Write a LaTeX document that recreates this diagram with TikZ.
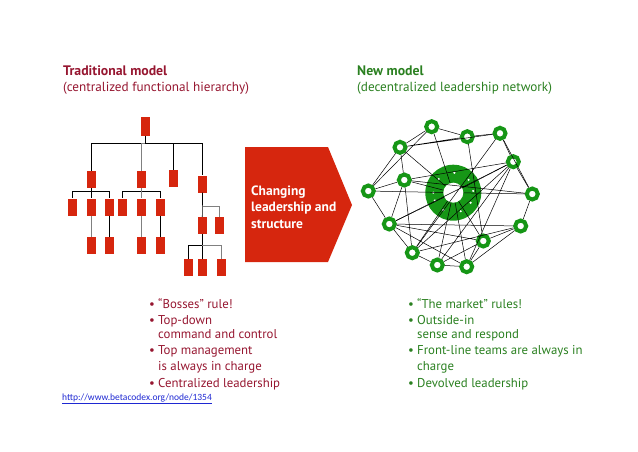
\documentclass[tikz,border=0pt]{standalone}
\usepackage{fontspec}
\setmainfont{PT Sans}
\newfontfamily\urlfont{Carlito}
\usetikzlibrary{positioning}
\definecolor{boxred}{RGB}{214,38,14}
\definecolor{oldred}{RGB}{150,22,48}
\definecolor{newgreen}{RGB}{42,128,32}
\definecolor{netgreen}{RGB}{22,150,22}
\definecolor{linkblue}{RGB}{30,40,210}
\tikzset{
  post/.style={fill=boxred,minimum width=9pt,minimum height=17pt,inner sep=0pt},
  wire/.style={line width=0.7pt},
  greywire/.style={line width=0.7pt,gray},
  team/.style={circle,draw=netgreen,line width=4pt,fill=white,minimum size=11pt,inner sep=0pt},
  tie/.style={line width=0.5pt},
  heading/.style={anchor=base west,inner sep=0pt,font=\fontsize{13.8}{16}\selectfont\bfseries},
  subheading/.style={anchor=base west,inner sep=0pt,font=\fontsize{13.2}{16}\selectfont},
  point/.style={anchor=base west,inner sep=0pt,font=\fontsize{12.8}{15}\selectfont},
}
\begin{document}
\begin{tikzpicture}[x=1pt,y=-1pt]
\useasboundingbox (0,0) rectangle (638,451);

% Headings
\node[heading,oldred] (oldtitle) at (63,75) {Traditional model};
\node[subheading,oldred] (oldsub) at (63,91) {(centralized functional hierarchy)};
\node[heading,newgreen] (newtitle) at (357,75) {New model};
\node[subheading,newgreen] (newsub) at (357,91) {(decentralized leadership network)};

% Hierarchy (left)
\node[post,minimum height=19pt] (boss) at (145.5,126.5) {};
\node[post] (m1) at (91.5,179.5) {};
\node[post] (m2) at (141.7,179.5) {};
\node[post] (m3) at (173.8,178.5) {};
\node[post] (m4) at (202.5,184) {};
\node[post] (a1) at (72.3,207) {};
\node[post] (a2) at (91,207) {};
\node[post] (a3) at (109.3,207) {};
\node[post] (b1) at (122.7,207) {};
\node[post] (b2) at (141.7,207) {};
\node[post] (b3) at (160,207) {};
\node[post] (a2x) at (91,245.5) {};
\node[post] (a3x) at (109.3,245.5) {};
\node[post] (b2x) at (141.7,245.5) {};
\node[post] (b3x) at (160,245.5) {};
\node[post] (c1) at (202.3,225.5) {};
\node[post] (c2) at (219.7,225.5) {};
\node[post] (d1) at (188.3,267.5) {};
\node[post] (d2) at (202.3,267.5) {};
\node[post] (d3) at (221.7,267.5) {};

\draw[wire] (boss.south) -- ++(0,7) -| (m1.north);
\draw[greywire] (boss.south) ++(0,7) -| (m2.north);
\draw[wire] (boss.south) -- ++(0,7) -| (m3.north);
\draw[wire] (boss.south) -- ++(0,7) -| (m4.north);
\draw[wire] (m1.south) -- ++(0,3) -| (a1.north);
\draw[wire] (m1.south) -- ++(0,3) -| (a2.north);
\draw[wire] (m1.south) -- ++(0,3) -| (a3.north);
\draw[wire] (m2.south) -- ++(0,3) -| (b1.north);
\draw[wire] (m2.south) -- ++(0,3) -| (b3.north);
\draw[greywire] (m2) -- (b2);
\draw[greywire] (a2) -- (a2x);
\draw[wire] (a3) -- (a3x);
\draw[greywire] (b2) -- (b2x);
\draw[wire] (b3) -- (b3x);
\draw[wire] (m4) -- (c1);
\draw[greywire] (m4.south) ++(0,14) -| (c2.north);
\draw[wire] (c1.south) -- ++(0,10.7) -| (d1.north);
\draw[wire] (c1) -- (d2);
\draw[greywire] (c1.south) ++(0,10.7) -| (d3.north);

% Change arrow
\fill[boxred] (245,147) -- (328,147) -- (352,205) -- (328,262) -- (245,262) -- cycle;
\node[anchor=west,align=left,white,inner sep=0pt,
  font=\fontsize{13.5}{16.5}\selectfont\bfseries] (shift) at (251,207)
  {Changing\\leadership and\\structure};

% Network (right)
\node[circle,fill=netgreen,minimum size=56pt,inner sep=0pt] (hub) at (453.3,192.7) {};
\node[circle,fill=white,minimum size=20pt,inner sep=0pt] (core) at (hub) {};
\foreach \ang in {87,40,5,-30,-68,-120,-157,180,137}
  \fill[white] (hub) ++(\ang:20pt) circle (1.2);

\node[team] (t1) at (431.7,126.7) {};
\node[team] (t2) at (467.3,136.7) {};
\node[team] (t3) at (500,133.3) {};
\node[team] (t4) at (400,147.3) {};
\node[team] (t5) at (513.3,161.7) {};
\node[team] (t6) at (404.3,180) {};
\node[team] (t7) at (368.3,191) {};
\node[team] (t8) at (532.3,194) {};
\node[team] (t9) at (389.3,224) {};
\node[team] (t10) at (520.7,226) {};
\node[team] (t11) at (483.3,241) {};
\node[team] (t12) at (412.3,252.7) {};
\node[team] (t13) at (437.3,265) {};
\node[team] (t14) at (466.7,266.7) {};

% outer ring
\draw[tie] (t1) -- (t2) (t2) -- (t3) (t3) -- (t5) (t5) -- (t8) (t8) -- (t10)
  (t10) -- (t11) (t10) -- (t14) (t14) -- (t13) (t13) -- (t12) (t12) -- (t9)
  (t9) -- (t7) (t7) -- (t4) (t4) -- (t1) (t11) -- (t14);
% cross links
\draw[tie] (t7) -- (t1) (t7) -- (t6) (t4) -- (t2) (t4) -- (t3) (t4) -- (t6)
  (t6) -- (t5) (t6) -- (t9) (t6) -- (t12) (t6) -- (t8) (t2) -- (t11)
  (t3) -- (t8) (t3) -- (t12) (t5) -- (t9) (t5) -- (t13) (t5) -- (t14)
  (t5) -- (t12) (t9) -- (t10) (t9) -- (t11) (t9) -- (t14) (t12) -- (t10)
  (t13) -- (t11);
% links into the core
\draw[tie] (core) -- (t7) (core) -- (t8) (core) -- (t6) (core) -- (t1)
  (core) -- (t4) (core) -- (t5) (core) -- (t9) (core) -- (t12)
  (core) -- (t13) (core) -- (t14) (core) -- (t11);

% Bullet lists
\node[point,oldred] (l1) at (158,308) {“Bosses” rule!};
\node[point,oldred] (l2) at (158,324) {Top-down};
\node[point,oldred] (l2b) at (158,338) {command and control};
\node[point,oldred] (l3) at (158,354) {Top management};
\node[point,oldred] (l3b) at (158,370) {is always in charge};
\node[point,oldred] (l4) at (158,387) {Centralized leadership};
\foreach \n in {l1,l2,l3,l4}
  \node[point,oldred,anchor=base east] at ([xshift=-3pt]\n.base west) {•};

\node[point,newgreen] (r1) at (417,308) {“The market” rules!};
\node[point,newgreen] (r2) at (417,324) {Outside-in};
\node[point,newgreen] (r2b) at (417,338) {sense and respond};
\node[point,newgreen] (r3) at (417,354) {Front-line teams are always in};
\node[point,newgreen] (r3b) at (417,370) {charge};
\node[point,newgreen] (r4) at (417,387) {Devolved leadership};
\foreach \n in {r1,r2,r3,r4}
  \node[point,newgreen,anchor=base east] at ([xshift=-3pt]\n.base west) {•};

% Source
\node[anchor=base west,inner sep=0pt,linkblue,font=\urlfont\fontsize{9.5}{11}\selectfont]
  (source) at (62,400) {\underline{http://www.betacodex.org/node/1354}};
\end{tikzpicture}
\end{document}
